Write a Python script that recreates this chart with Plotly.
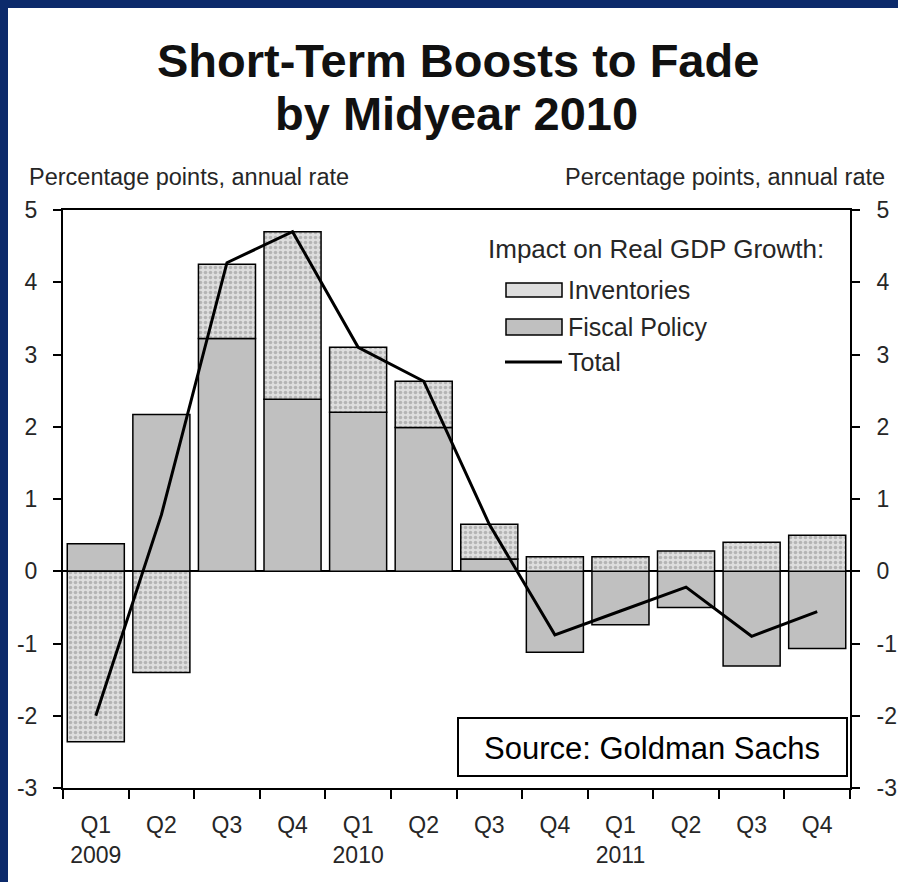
import plotly.graph_objects as go

# ---------------- data ----------------
categories = ["2009Q1", "2009Q2", "2009Q3", "2009Q4",
              "2010Q1", "2010Q2", "2010Q3", "2010Q4",
              "2011Q1", "2011Q2", "2011Q3", "2011Q4"]
tick_labels = ["Q1<br>2009", "Q2", "Q3", "Q4",
               "Q1<br>2010", "Q2", "Q3", "Q4",
               "Q1<br>2011", "Q2", "Q3", "Q4"]
fiscal_policy = [0.38, 2.17, 3.22, 2.38, 2.20, 1.99, 0.17, -1.12, -0.74, -0.50, -1.31, -1.07]
inventories = [-2.36, -1.40, 1.03, 2.32, 0.90, 0.64, 0.48, 0.20, 0.20, 0.28, 0.40, 0.50]
total = [-2.00, 0.78, 4.27, 4.70, 3.10, 2.63, 0.65, -0.88, -0.55, -0.22, -0.90, -0.56]
y_ticks = [-3, -2, -1, 0, 1, 2, 3, 4, 5]
y_tick_text = ["-3", "-2", "-1", "0", "1", "2", "3", "4", "5"]

title_lines = ["Short-Term Boosts to Fade", "by Midyear 2010"]
axis_title = "Percentage points, annual rate"
legend_title = "Impact on Real GDP Growth:"
legend_names = ["Inventories", "Fiscal Policy", "Total"]
source_text = "Source: Goldman Sachs"

# ---------------- layout helpers ----------------
W, H = 898, 882
L, R, T, B = 63, 850, 210, 788  # plot area in pixels
FONT = "Liberation Sans, Arial, sans-serif"
NAVY = "#0c2a6b"
FISCAL = "#c0c0c0"
INV_BG = "#dedede"
INV_FG = "#8a8a8a"
TXT = "#262626"


def px(x):
    return (x - L) / (R - L)


def py(y):
    return (B - y) / (B - T)


fig = go.Figure()

fig.add_trace(go.Bar(
    x=categories, y=fiscal_policy, name=legend_names[1],
    marker=dict(color=FISCAL, line=dict(color="black", width=1.5)),
    showlegend=False,
))
fig.add_trace(go.Bar(
    x=categories, y=inventories, name=legend_names[0],
    marker=dict(color=INV_BG, line=dict(color="black", width=1.5),
                pattern=dict(shape=".", bgcolor=INV_BG, fgcolor=INV_FG,
                             size=5, solidity=0.4)),
    showlegend=False,
))
fig.add_trace(go.Scatter(
    x=categories, y=total, name=legend_names[2], mode="lines",
    line=dict(color="black", width=3),
    showlegend=False,
))
# invisible trace to activate the right-hand axis
fig.add_trace(go.Scatter(x=categories, y=total, yaxis="y2", mode="lines",
                         line=dict(color="rgba(0,0,0,0)"), showlegend=False,
                         hoverinfo="skip"))

shapes = []
annotations = []

# navy frame strips (top and left)
shapes.append(dict(type="rect", xref="paper", yref="paper",
                   x0=px(-5), x1=px(W + 20), y0=py(8), y1=py(-5),
                   fillcolor=NAVY, line=dict(width=0), layer="above"))
shapes.append(dict(type="rect", xref="paper", yref="paper",
                   x0=px(-5), x1=px(8), y0=py(H + 5), y1=py(-5),
                   fillcolor=NAVY, line=dict(width=0), layer="above"))

# title
annotations.append(dict(text="<b>%s</b>" % title_lines[0], xref="paper", yref="paper",
                        x=px(458), y=py(60), xanchor="center", yanchor="middle",
                        showarrow=False, font=dict(family=FONT, size=47, color="#111111")))
annotations.append(dict(text="<b>%s</b>" % title_lines[1], xref="paper", yref="paper",
                        x=px(456), y=py(114), xanchor="center", yanchor="middle",
                        showarrow=False, font=dict(family=FONT, size=47, color="#111111")))

# axis titles
annotations.append(dict(text=axis_title, xref="paper", yref="paper",
                        x=px(27), y=py(177), xanchor="left", yanchor="middle",
                        showarrow=False, font=dict(family=FONT, size=23.5, color=TXT)))
annotations.append(dict(text=axis_title, xref="paper", yref="paper",
                        x=px(887), y=py(177), xanchor="right", yanchor="middle",
                        showarrow=False, font=dict(family=FONT, size=23.5, color=TXT)))

# custom legend
annotations.append(dict(text=legend_title, xref="paper", yref="paper",
                        x=px(486), y=py(249), xanchor="left", yanchor="middle",
                        showarrow=False, font=dict(family=FONT, size=26, color=TXT)))
leg_y = [290, 327, 362]
shapes.append(dict(type="rect", xref="paper", yref="paper",
                   x0=px(506), x1=px(562), y0=py(leg_y[0] + 7), y1=py(leg_y[0] - 7),
                   fillcolor=INV_BG, line=dict(color="black", width=1.5)))
shapes.append(dict(type="rect", xref="paper", yref="paper",
                   x0=px(506), x1=px(562), y0=py(leg_y[1] + 8), y1=py(leg_y[1] - 8),
                   fillcolor=FISCAL, line=dict(color="black", width=1.5)))
shapes.append(dict(type="line", xref="paper", yref="paper",
                   x0=px(505), x1=px(562), y0=py(leg_y[2]), y1=py(leg_y[2]),
                   line=dict(color="black", width=3)))
for name, yy in zip(legend_names, leg_y):
    annotations.append(dict(text=name, xref="paper", yref="paper",
                            x=px(566), y=py(yy), xanchor="left", yanchor="middle",
                            showarrow=False, font=dict(family=FONT, size=25, color=TXT)))

# source box
shapes.append(dict(type="rect", xref="paper", yref="paper",
                   x0=px(458), x1=px(847), y0=py(776), y1=py(718),
                   fillcolor="white", line=dict(color="black", width=2), layer="above"))
annotations.append(dict(text=source_text, xref="paper", yref="paper",
                        x=px(652), y=py(748), xanchor="center", yanchor="middle",
                        showarrow=False, font=dict(family=FONT, size=31, color="black")))

fig.update_layout(
    width=W, height=H, autosize=False,
    margin=dict(l=L, r=W - R, t=T, b=H - B, pad=0),
    paper_bgcolor="white", plot_bgcolor="white",
    barmode="relative", bargap=0.13,
    showlegend=False,
    shapes=shapes, annotations=annotations,
    font=dict(family=FONT, size=23, color=TXT),
    xaxis=dict(type="category", categoryorder="array", categoryarray=categories,
               tickmode="array", tickvals=categories, ticktext=tick_labels,
               tickson="boundaries", ticks="outside", ticklen=9, tickwidth=1.5,
               tickcolor="black", showline=True, linecolor="black", linewidth=2,
               mirror=True, showgrid=False, ticklabelstandoff=15, automargin=False,
               tickfont=dict(family=FONT, size=23, color=TXT)),
    yaxis=dict(range=[-3, 5], tickmode="array", tickvals=y_ticks, ticktext=y_tick_text,
               ticks="outside", ticklen=8, tickwidth=1.5, tickcolor="black",
               showline=True, linecolor="black", linewidth=2, showgrid=False,
               zeroline=True, zerolinecolor="black", zerolinewidth=2,
               ticklabelstandoff=11, automargin=False,
               tickfont=dict(family=FONT, size=23, color=TXT)),
    yaxis2=dict(range=[-3, 5], tickmode="array", tickvals=y_ticks, ticktext=y_tick_text,
                overlaying="y", side="right",
                ticks="outside", ticklen=8, tickwidth=1.5, tickcolor="black",
                showline=True, linecolor="black", linewidth=2, showgrid=False,
                zeroline=False, ticklabelstandoff=12, automargin=False,
                tickfont=dict(family=FONT, size=23, color=TXT)),
)

fig.write_html("out.html", config={"responsive": False})
